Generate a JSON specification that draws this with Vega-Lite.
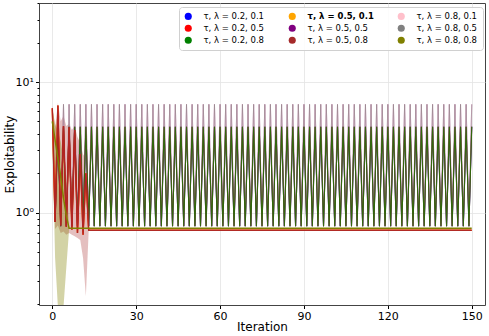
{
  "$schema": "https://vega.github.io/schema/vega-lite/v6.json",
  "width": 446,
  "height": 302,
  "autosize": "none",
  "padding": {"left": 39, "top": 3, "right": 4, "bottom": 31},
  "config": {
    "view": {"stroke": "#444", "strokeWidth": 1},
    "font": "DejaVu Sans",
    "axis": {"domain": false, "labelFont": "DejaVu Sans", "titleFont": "DejaVu Sans", "labelColor": "#000", "titleColor": "#000", "titleFontWeight": "normal", "tickColor": "#000", "gridColor": "#e3e3e3", "gridWidth": 0.8}
  },
  "data": {"values": [
    {"x":0,"r":6.3,"o":5.0,"rl":5.8,"rh":6.6,"ol":3.5,"oh":6.3},
    {"x":1,"g":0.85,"r":0.85,"o":3.6,"rl":0.75,"rh":4.5,"ol":0.45,"oh":4.8},
    {"x":2,"g":4.55,"r":6.6,"o":2.6,"rl":0.8,"rh":6.9,"ol":0.19,"oh":4.2},
    {"x":3,"hi":0.79,"g":0.79,"r":0.8,"o":1.9,"rl":0.7,"rh":5.0,"ol":0.05,"oh":3.5},
    {"x":4,"hi":6.75,"g":4.55,"r":4.6,"o":1.3,"rl":0.72,"rh":5.5,"ol":0.19,"oh":2.6},
    {"x":5,"hi":0.79,"g":0.79,"r":0.78,"o":0.95,"rl":0.68,"rh":4.6,"ol":0.38,"oh":1.9},
    {"x":6,"hi":6.75,"g":4.55,"r":4.5,"o":0.76,"rl":0.7,"rh":4.8,"ol":0.74,"oh":0.78},
    {"x":7,"hi":0.79,"g":0.79,"r":0.74,"o":0.76,"rl":0.68,"rh":4.3},
    {"x":8,"hi":6.75,"g":4.55,"r":4.3,"o":0.76,"rl":0.66,"rh":4.6},
    {"x":9,"hi":0.79,"g":0.79,"r":0.7,"o":0.76,"rl":0.64,"rh":3.8},
    {"x":10,"hi":6.75,"g":4.55,"r":2.8,"o":0.76,"rl":0.62,"rh":3.4},
    {"x":11,"hi":0.79,"g":0.79,"r":0.68,"o":0.76,"rl":0.45,"rh":2.8},
    {"x":12,"hi":6.75,"g":4.55,"r":2.0,"o":0.76,"rl":0.23,"rh":2.6},
    {"x":13,"hi":0.79,"g":0.79,"r":0.735,"o":0.76,"rl":0.72,"rh":0.75},
    {"x":14,"hi":6.75,"g":4.55,"r":0.735,"o":0.76},
    {"x":15,"hi":0.79,"g":0.79,"r":0.735,"o":0.76},
    {"x":16,"hi":6.75,"g":4.55,"r":0.735,"o":0.76},
    {"x":17,"hi":0.79,"g":0.79,"r":0.735,"o":0.76},
    {"x":18,"hi":6.75,"g":4.55,"r":0.735,"o":0.76},
    {"x":19,"hi":0.79,"g":0.79,"r":0.735,"o":0.76},
    {"x":20,"hi":6.75,"g":4.55,"r":0.735,"o":0.76},
    {"x":21,"hi":0.79,"g":0.79,"r":0.735,"o":0.76},
    {"x":22,"hi":6.75,"g":4.55,"r":0.735,"o":0.76},
    {"x":23,"hi":0.79,"g":0.79,"r":0.735,"o":0.76},
    {"x":24,"hi":6.75,"g":4.55,"r":0.735,"o":0.76},
    {"x":25,"hi":0.79,"g":0.79,"r":0.735,"o":0.76},
    {"x":26,"hi":6.75,"g":4.55,"r":0.735,"o":0.76},
    {"x":27,"hi":0.79,"g":0.79,"r":0.735,"o":0.76},
    {"x":28,"hi":6.75,"g":4.55,"r":0.735,"o":0.76},
    {"x":29,"hi":0.79,"g":0.79,"r":0.735,"o":0.76},
    {"x":30,"hi":6.75,"g":4.55,"r":0.735,"o":0.76},
    {"x":31,"hi":0.79,"g":0.79,"r":0.735,"o":0.76},
    {"x":32,"hi":6.75,"g":4.55,"r":0.735,"o":0.76},
    {"x":33,"hi":0.79,"g":0.79,"r":0.735,"o":0.76},
    {"x":34,"hi":6.75,"g":4.55,"r":0.735,"o":0.76},
    {"x":35,"hi":0.79,"g":0.79,"r":0.735,"o":0.76},
    {"x":36,"hi":6.75,"g":4.55,"r":0.735,"o":0.76},
    {"x":37,"hi":0.79,"g":0.79,"r":0.735,"o":0.76},
    {"x":38,"hi":6.75,"g":4.55,"r":0.735,"o":0.76},
    {"x":39,"hi":0.79,"g":0.79,"r":0.735,"o":0.76},
    {"x":40,"hi":6.75,"g":4.55,"r":0.735,"o":0.76},
    {"x":41,"hi":0.79,"g":0.79,"r":0.735,"o":0.76},
    {"x":42,"hi":6.75,"g":4.55,"r":0.735,"o":0.76},
    {"x":43,"hi":0.79,"g":0.79,"r":0.735,"o":0.76},
    {"x":44,"hi":6.75,"g":4.55,"r":0.735,"o":0.76},
    {"x":45,"hi":0.79,"g":0.79,"r":0.735,"o":0.76},
    {"x":46,"hi":6.75,"g":4.55,"r":0.735,"o":0.76},
    {"x":47,"hi":0.79,"g":0.79,"r":0.735,"o":0.76},
    {"x":48,"hi":6.75,"g":4.55,"r":0.735,"o":0.76},
    {"x":49,"hi":0.79,"g":0.79,"r":0.735,"o":0.76},
    {"x":50,"hi":6.75,"g":4.55,"r":0.735,"o":0.76},
    {"x":51,"hi":0.79,"g":0.79,"r":0.735,"o":0.76},
    {"x":52,"hi":6.75,"g":4.55,"r":0.735,"o":0.76},
    {"x":53,"hi":0.79,"g":0.79,"r":0.735,"o":0.76},
    {"x":54,"hi":6.75,"g":4.55,"r":0.735,"o":0.76},
    {"x":55,"hi":0.79,"g":0.79,"r":0.735,"o":0.76},
    {"x":56,"hi":6.75,"g":4.55,"r":0.735,"o":0.76},
    {"x":57,"hi":0.79,"g":0.79,"r":0.735,"o":0.76},
    {"x":58,"hi":6.75,"g":4.55,"r":0.735,"o":0.76},
    {"x":59,"hi":0.79,"g":0.79,"r":0.735,"o":0.76},
    {"x":60,"hi":6.75,"g":4.55,"r":0.735,"o":0.76},
    {"x":61,"hi":0.79,"g":0.79,"r":0.735,"o":0.76},
    {"x":62,"hi":6.75,"g":4.55,"r":0.735,"o":0.76},
    {"x":63,"hi":0.79,"g":0.79,"r":0.735,"o":0.76},
    {"x":64,"hi":6.75,"g":4.55,"r":0.735,"o":0.76},
    {"x":65,"hi":0.79,"g":0.79,"r":0.735,"o":0.76},
    {"x":66,"hi":6.75,"g":4.55,"r":0.735,"o":0.76},
    {"x":67,"hi":0.79,"g":0.79,"r":0.735,"o":0.76},
    {"x":68,"hi":6.75,"g":4.55,"r":0.735,"o":0.76},
    {"x":69,"hi":0.79,"g":0.79,"r":0.735,"o":0.76},
    {"x":70,"hi":6.75,"g":4.55,"r":0.735,"o":0.76},
    {"x":71,"hi":0.79,"g":0.79,"r":0.735,"o":0.76},
    {"x":72,"hi":6.75,"g":4.55,"r":0.735,"o":0.76},
    {"x":73,"hi":0.79,"g":0.79,"r":0.735,"o":0.76},
    {"x":74,"hi":6.75,"g":4.55,"r":0.735,"o":0.76},
    {"x":75,"hi":0.79,"g":0.79,"r":0.735,"o":0.76},
    {"x":76,"hi":6.75,"g":4.55,"r":0.735,"o":0.76},
    {"x":77,"hi":0.79,"g":0.79,"r":0.735,"o":0.76},
    {"x":78,"hi":6.75,"g":4.55,"r":0.735,"o":0.76},
    {"x":79,"hi":0.79,"g":0.79,"r":0.735,"o":0.76},
    {"x":80,"hi":6.75,"g":4.55,"r":0.735,"o":0.76},
    {"x":81,"hi":0.79,"g":0.79,"r":0.735,"o":0.76},
    {"x":82,"hi":6.75,"g":4.55,"r":0.735,"o":0.76},
    {"x":83,"hi":0.79,"g":0.79,"r":0.735,"o":0.76},
    {"x":84,"hi":6.75,"g":4.55,"r":0.735,"o":0.76},
    {"x":85,"hi":0.79,"g":0.79,"r":0.735,"o":0.76},
    {"x":86,"hi":6.75,"g":4.55,"r":0.735,"o":0.76},
    {"x":87,"hi":0.79,"g":0.79,"r":0.735,"o":0.76},
    {"x":88,"hi":6.75,"g":4.55,"r":0.735,"o":0.76},
    {"x":89,"hi":0.79,"g":0.79,"r":0.735,"o":0.76},
    {"x":90,"hi":6.75,"g":4.55,"r":0.735,"o":0.76},
    {"x":91,"hi":0.79,"g":0.79,"r":0.735,"o":0.76},
    {"x":92,"hi":6.75,"g":4.55,"r":0.735,"o":0.76},
    {"x":93,"hi":0.79,"g":0.79,"r":0.735,"o":0.76},
    {"x":94,"hi":6.75,"g":4.55,"r":0.735,"o":0.76},
    {"x":95,"hi":0.79,"g":0.79,"r":0.735,"o":0.76},
    {"x":96,"hi":6.75,"g":4.55,"r":0.735,"o":0.76},
    {"x":97,"hi":0.79,"g":0.79,"r":0.735,"o":0.76},
    {"x":98,"hi":6.75,"g":4.55,"r":0.735,"o":0.76},
    {"x":99,"hi":0.79,"g":0.79,"r":0.735,"o":0.76},
    {"x":100,"hi":6.75,"g":4.55,"r":0.735,"o":0.76},
    {"x":101,"hi":0.79,"g":0.79,"r":0.735,"o":0.76},
    {"x":102,"hi":6.75,"g":4.55,"r":0.735,"o":0.76},
    {"x":103,"hi":0.79,"g":0.79,"r":0.735,"o":0.76},
    {"x":104,"hi":6.75,"g":4.55,"r":0.735,"o":0.76},
    {"x":105,"hi":0.79,"g":0.79,"r":0.735,"o":0.76},
    {"x":106,"hi":6.75,"g":4.55,"r":0.735,"o":0.76},
    {"x":107,"hi":0.79,"g":0.79,"r":0.735,"o":0.76},
    {"x":108,"hi":6.75,"g":4.55,"r":0.735,"o":0.76},
    {"x":109,"hi":0.79,"g":0.79,"r":0.735,"o":0.76},
    {"x":110,"hi":6.75,"g":4.55,"r":0.735,"o":0.76},
    {"x":111,"hi":0.79,"g":0.79,"r":0.735,"o":0.76},
    {"x":112,"hi":6.75,"g":4.55,"r":0.735,"o":0.76},
    {"x":113,"hi":0.79,"g":0.79,"r":0.735,"o":0.76},
    {"x":114,"hi":6.75,"g":4.55,"r":0.735,"o":0.76},
    {"x":115,"hi":0.79,"g":0.79,"r":0.735,"o":0.76},
    {"x":116,"hi":6.75,"g":4.55,"r":0.735,"o":0.76},
    {"x":117,"hi":0.79,"g":0.79,"r":0.735,"o":0.76},
    {"x":118,"hi":6.75,"g":4.55,"r":0.735,"o":0.76},
    {"x":119,"hi":0.79,"g":0.79,"r":0.735,"o":0.76},
    {"x":120,"hi":6.75,"g":4.55,"r":0.735,"o":0.76},
    {"x":121,"hi":0.79,"g":0.79,"r":0.735,"o":0.76},
    {"x":122,"hi":6.75,"g":4.55,"r":0.735,"o":0.76},
    {"x":123,"hi":0.79,"g":0.79,"r":0.735,"o":0.76},
    {"x":124,"hi":6.75,"g":4.55,"r":0.735,"o":0.76},
    {"x":125,"hi":0.79,"g":0.79,"r":0.735,"o":0.76},
    {"x":126,"hi":6.75,"g":4.55,"r":0.735,"o":0.76},
    {"x":127,"hi":0.79,"g":0.79,"r":0.735,"o":0.76},
    {"x":128,"hi":6.75,"g":4.55,"r":0.735,"o":0.76},
    {"x":129,"hi":0.79,"g":0.79,"r":0.735,"o":0.76},
    {"x":130,"hi":6.75,"g":4.55,"r":0.735,"o":0.76},
    {"x":131,"hi":0.79,"g":0.79,"r":0.735,"o":0.76},
    {"x":132,"hi":6.75,"g":4.55,"r":0.735,"o":0.76},
    {"x":133,"hi":0.79,"g":0.79,"r":0.735,"o":0.76},
    {"x":134,"hi":6.75,"g":4.55,"r":0.735,"o":0.76},
    {"x":135,"hi":0.79,"g":0.79,"r":0.735,"o":0.76},
    {"x":136,"hi":6.75,"g":4.55,"r":0.735,"o":0.76},
    {"x":137,"hi":0.79,"g":0.79,"r":0.735,"o":0.76},
    {"x":138,"hi":6.75,"g":4.55,"r":0.735,"o":0.76},
    {"x":139,"hi":0.79,"g":0.79,"r":0.735,"o":0.76},
    {"x":140,"hi":6.75,"g":4.55,"r":0.735,"o":0.76},
    {"x":141,"hi":0.79,"g":0.79,"r":0.735,"o":0.76},
    {"x":142,"hi":6.75,"g":4.55,"r":0.735,"o":0.76},
    {"x":143,"hi":0.79,"g":0.79,"r":0.735,"o":0.76},
    {"x":144,"hi":6.75,"g":4.55,"r":0.735,"o":0.76},
    {"x":145,"hi":0.79,"g":0.79,"r":0.735,"o":0.76},
    {"x":146,"hi":6.75,"g":4.55,"r":0.735,"o":0.76},
    {"x":147,"hi":0.79,"g":0.79,"r":0.735,"o":0.76},
    {"x":148,"hi":6.75,"g":4.55,"r":0.735,"o":0.76},
    {"x":149,"hi":0.79,"g":0.79,"r":0.735,"o":0.76},
    {"x":150,"hi":6.75,"g":4.55,"r":0.735,"o":0.76}
  ]},
  "encoding": {
    "x": {"field": "x", "type": "quantitative",
      "scale": {"domain": [-4.76, 154.75], "nice": false, "zero": false},
      "axis": {"values": [0, 30, 60, 90, 120, 150], "title": "Iteration", "labelFontSize": 11, "titleFontSize": 12, "tickSize": 3.5, "labelPadding": 2, "titlePadding": 0, "grid": true, "labelFlush": false}
    }
  },
  "layer": [
    {"mark": {"type": "area", "opacity": 0.3, "clip": true},
     "encoding": {
       "y": {"field": "rl", "type": "quantitative",
         "scale": {"type": "log", "domain": [0.197, 40.2], "nice": false},
         "axis": {"title": "Exploitability", "values": [0.2,0.3,0.4,0.5,0.6,0.7,0.8,0.9,1,2,3,4,5,6,7,8,9,10,20,30,40],
           "labelExpr": "datum.value == 1 ? '10⁰' : (datum.value == 10 ? '10¹' : '')",
           "tickSize": {"condition": {"test": "datum.value == 1 || datum.value == 10", "value": 3.5}, "value": 2},
           "gridOpacity": {"condition": {"test": "datum.value == 1 || datum.value == 10", "value": 1}, "value": 0},
           "labelFontSize": 11, "titleFontSize": 12, "labelPadding": 2, "titleX": -26, "titleY": 151, "titleBaseline": "alphabetic", "titleAnchor": "middle", "grid": true}},
       "y2": {"field": "rh"},
       "color": {"datum": "τ, λ = 0.5, 0.8",
         "scale": {"domain": ["τ, λ = 0.2, 0.1", "τ, λ = 0.2, 0.5", "τ, λ = 0.2, 0.8", "τ, λ = 0.5, 0.1", "τ, λ = 0.5, 0.5", "τ, λ = 0.5, 0.8", "τ, λ = 0.8, 0.1", "τ, λ = 0.8, 0.5", "τ, λ = 0.8, 0.8"],
           "range": ["#0000ff", "#ff0000", "#008000", "#ffa500", "#800080", "#a52a2a", "#ffc0cb", "#808080", "#808000"]},
         "legend": {"title": null, "orient": "none", "legendX": 140, "legendY": 4, "columns": 3, "columnPadding": 23, "rowPadding": 3,
           "symbolType": "circle", "symbolSize": 50, "symbolOpacity": 1, "symbolStrokeWidth": 0, "labelFontSize": 8.5, "labelFont": "DejaVu Sans", "labelColor": "#000", "labelOffset": 11, "padding": 5,
           "fillColor": "rgba(255,255,255,0.85)", "strokeColor": "#d0d0d0", "cornerRadius": 3,
           "encode": {
             "symbols": {"update": {"fill": {"scale": "color", "field": "value"}, "stroke": {"value": "transparent"}, "opacity": {"value": 1}}},
             "labels": {"update": {"fontWeight": {"signal": "datum.value === 'τ, λ = 0.5, 0.1' ? 'bold' : 'normal'"}}}
           }}}}},
    {"mark": {"type": "area", "opacity": 0.35, "clip": true},
     "encoding": {"y": {"field": "ol", "type": "quantitative"}, "y2": {"field": "oh"},
       "color": {"datum": "τ, λ = 0.8, 0.8",
         "scale": {"domain": ["τ, λ = 0.2, 0.1", "τ, λ = 0.2, 0.5", "τ, λ = 0.2, 0.8", "τ, λ = 0.5, 0.1", "τ, λ = 0.5, 0.5", "τ, λ = 0.5, 0.8", "τ, λ = 0.8, 0.1", "τ, λ = 0.8, 0.5", "τ, λ = 0.8, 0.8"],
           "range": ["#0000ff", "#ff0000", "#008000", "#ffa500", "#800080", "#a52a2a", "#ffc0cb", "#808080", "#808000"]}}}},
    {"mark": {"type": "line", "strokeWidth": 1.0, "clip": true},
     "encoding": {"y": {"field": "g", "type": "quantitative"},
       "color": {"datum": "τ, λ = 0.2, 0.1",
         "scale": {"domain": ["τ, λ = 0.2, 0.1", "τ, λ = 0.2, 0.5", "τ, λ = 0.2, 0.8", "τ, λ = 0.5, 0.1", "τ, λ = 0.5, 0.5", "τ, λ = 0.5, 0.8", "τ, λ = 0.8, 0.1", "τ, λ = 0.8, 0.5", "τ, λ = 0.8, 0.8"],
           "range": ["#0000ff", "#ff0000", "#008000", "#ffa500", "#800080", "#a52a2a", "#ffc0cb", "#808080", "#808000"]}}}},
    {"mark": {"type": "line", "strokeWidth": 1.3, "clip": true},
     "encoding": {"y": {"field": "r", "type": "quantitative"},
       "color": {"datum": "τ, λ = 0.5, 0.1",
         "scale": {"domain": ["τ, λ = 0.2, 0.1", "τ, λ = 0.2, 0.5", "τ, λ = 0.2, 0.8", "τ, λ = 0.5, 0.1", "τ, λ = 0.5, 0.5", "τ, λ = 0.5, 0.8", "τ, λ = 0.8, 0.1", "τ, λ = 0.8, 0.5", "τ, λ = 0.8, 0.8"],
           "range": ["#0000ff", "#ff0000", "#008000", "#ffa500", "#800080", "#a52a2a", "#ffc0cb", "#808080", "#808000"]}}}},
    {"mark": {"type": "line", "strokeWidth": 1.0, "opacity": 0.35, "clip": true},
     "encoding": {"y": {"field": "hi", "type": "quantitative"},
       "color": {"datum": "τ, λ = 0.5, 0.5",
         "scale": {"domain": ["τ, λ = 0.2, 0.1", "τ, λ = 0.2, 0.5", "τ, λ = 0.2, 0.8", "τ, λ = 0.5, 0.1", "τ, λ = 0.5, 0.5", "τ, λ = 0.5, 0.8", "τ, λ = 0.8, 0.1", "τ, λ = 0.8, 0.5", "τ, λ = 0.8, 0.8"],
           "range": ["#0000ff", "#ff0000", "#008000", "#ffa500", "#800080", "#a52a2a", "#ffc0cb", "#808080", "#808000"]}}}},
    {"mark": {"type": "line", "strokeWidth": 1.0, "opacity": 0.5, "clip": true},
     "encoding": {"y": {"field": "hi", "type": "quantitative"},
       "color": {"datum": "τ, λ = 0.8, 0.1",
         "scale": {"domain": ["τ, λ = 0.2, 0.1", "τ, λ = 0.2, 0.5", "τ, λ = 0.2, 0.8", "τ, λ = 0.5, 0.1", "τ, λ = 0.5, 0.5", "τ, λ = 0.5, 0.8", "τ, λ = 0.8, 0.1", "τ, λ = 0.8, 0.5", "τ, λ = 0.8, 0.8"],
           "range": ["#0000ff", "#ff0000", "#008000", "#ffa500", "#800080", "#a52a2a", "#ffc0cb", "#808080", "#808000"]}}}},
    {"mark": {"type": "line", "strokeWidth": 1.0, "opacity": 0.5, "clip": true},
     "encoding": {"y": {"field": "hi", "type": "quantitative"},
       "color": {"datum": "τ, λ = 0.8, 0.5",
         "scale": {"domain": ["τ, λ = 0.2, 0.1", "τ, λ = 0.2, 0.5", "τ, λ = 0.2, 0.8", "τ, λ = 0.5, 0.1", "τ, λ = 0.5, 0.5", "τ, λ = 0.5, 0.8", "τ, λ = 0.8, 0.1", "τ, λ = 0.8, 0.5", "τ, λ = 0.8, 0.8"],
           "range": ["#0000ff", "#ff0000", "#008000", "#ffa500", "#800080", "#a52a2a", "#ffc0cb", "#808080", "#808000"]}}}},
    {"mark": {"type": "line", "strokeWidth": 1.1, "clip": true},
     "encoding": {"y": {"field": "g", "type": "quantitative"},
       "color": {"datum": "τ, λ = 0.5, 0.8",
         "scale": {"domain": ["τ, λ = 0.2, 0.1", "τ, λ = 0.2, 0.5", "τ, λ = 0.2, 0.8", "τ, λ = 0.5, 0.1", "τ, λ = 0.5, 0.5", "τ, λ = 0.5, 0.8", "τ, λ = 0.8, 0.1", "τ, λ = 0.8, 0.5", "τ, λ = 0.8, 0.8"],
           "range": ["#0000ff", "#ff0000", "#008000", "#ffa500", "#800080", "#a52a2a", "#ffc0cb", "#808080", "#808000"]}}}},
    {"mark": {"type": "line", "strokeWidth": 1.1, "opacity": 0.7, "clip": true},
     "encoding": {"y": {"field": "g", "type": "quantitative"},
       "color": {"datum": "τ, λ = 0.2, 0.8",
         "scale": {"domain": ["τ, λ = 0.2, 0.1", "τ, λ = 0.2, 0.5", "τ, λ = 0.2, 0.8", "τ, λ = 0.5, 0.1", "τ, λ = 0.5, 0.5", "τ, λ = 0.5, 0.8", "τ, λ = 0.8, 0.1", "τ, λ = 0.8, 0.5", "τ, λ = 0.8, 0.8"],
           "range": ["#0000ff", "#ff0000", "#008000", "#ffa500", "#800080", "#a52a2a", "#ffc0cb", "#808080", "#808000"]}}}},
    {"mark": {"type": "line", "strokeWidth": 1.2, "clip": true},
     "encoding": {"y": {"field": "r", "type": "quantitative"},
       "color": {"datum": "τ, λ = 0.2, 0.5",
         "scale": {"domain": ["τ, λ = 0.2, 0.1", "τ, λ = 0.2, 0.5", "τ, λ = 0.2, 0.8", "τ, λ = 0.5, 0.1", "τ, λ = 0.5, 0.5", "τ, λ = 0.5, 0.8", "τ, λ = 0.8, 0.1", "τ, λ = 0.8, 0.5", "τ, λ = 0.8, 0.8"],
           "range": ["#0000ff", "#ff0000", "#008000", "#ffa500", "#800080", "#a52a2a", "#ffc0cb", "#808080", "#808000"]}}}},
    {"mark": {"type": "line", "strokeWidth": 1.4, "opacity": 0.85, "clip": true},
     "encoding": {"y": {"field": "r", "type": "quantitative"},
       "color": {"datum": "τ, λ = 0.5, 0.8",
         "scale": {"domain": ["τ, λ = 0.2, 0.1", "τ, λ = 0.2, 0.5", "τ, λ = 0.2, 0.8", "τ, λ = 0.5, 0.1", "τ, λ = 0.5, 0.5", "τ, λ = 0.5, 0.8", "τ, λ = 0.8, 0.1", "τ, λ = 0.8, 0.5", "τ, λ = 0.8, 0.8"],
           "range": ["#0000ff", "#ff0000", "#008000", "#ffa500", "#800080", "#a52a2a", "#ffc0cb", "#808080", "#808000"]}}}},
    {"mark": {"type": "line", "strokeWidth": 1.5, "clip": true},
     "encoding": {"y": {"field": "o", "type": "quantitative"},
       "color": {"datum": "τ, λ = 0.8, 0.8",
         "scale": {"domain": ["τ, λ = 0.2, 0.1", "τ, λ = 0.2, 0.5", "τ, λ = 0.2, 0.8", "τ, λ = 0.5, 0.1", "τ, λ = 0.5, 0.5", "τ, λ = 0.5, 0.8", "τ, λ = 0.8, 0.1", "τ, λ = 0.8, 0.5", "τ, λ = 0.8, 0.8"],
           "range": ["#0000ff", "#ff0000", "#008000", "#ffa500", "#800080", "#a52a2a", "#ffc0cb", "#808080", "#808000"]}}}}
  ]
}
